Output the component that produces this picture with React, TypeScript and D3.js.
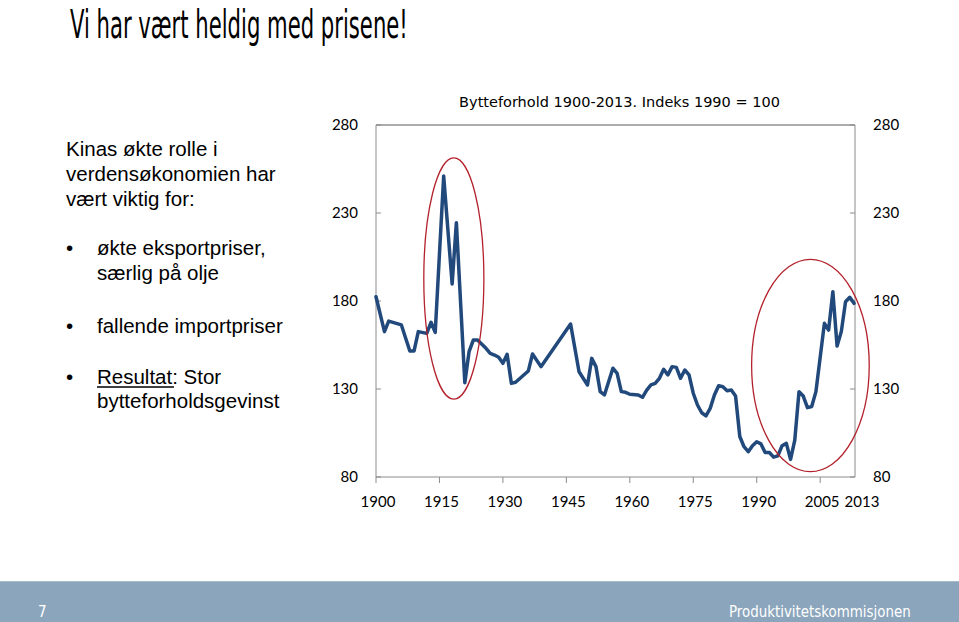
import React, { useLayoutEffect, useRef, useState } from "react";
import * as d3 from "d3";

const years = [1900,1902,1903,1906,1908,1909,1910,1912,1913,1914,1916,1918,1919,1921,1922,1923,1924,1926,1927,1928,1929,1930,1931,1932,1933,1936,1937,1939,1946,1948,1950,1951,1952,1953,1954,1956,1957,1958,1959,1960,1962,1963,1964,1965,1966,1967,1968,1969,1970,1971,1972,1973,1974,1975,1976,1977,1978,1979,1980,1981,1982,1983,1984,1985,1986,1987,1988,1989,1990,1991,1992,1993,1994,1995,1996,1997,1998,1999,2000,2001,2002,2003,2004,2006,2007,2008,2009,2010,2011,2012,2013];
const values = [182.4,162.6,168.6,166.4,151.6,151.6,162.6,161.6,167.9,162.2,251,189.7,224.5,133.6,151.2,157.8,157.8,153.1,150.2,149.3,148,144.6,149.7,133.2,133.8,140.2,149.9,142.7,166.9,139.8,132.3,147.4,142.7,128.5,126.6,141.8,138.9,128.5,128.1,127,126.6,125.3,129.4,132.3,133.2,136.1,141.2,138,142.7,142.3,136.1,140.8,138,127.6,120.9,116.5,114.7,119,126.6,131.9,131.3,129,129.4,126,103,97.2,94.4,97.8,100,98.8,93.9,93.9,91.3,92,97.8,99.1,90,101,128.5,126,119.4,120,128.5,167.3,163.5,185.3,154.4,162.6,179.6,182.1,178.7];

const yTicks = [80, 130, 180, 230, 280];
const xTicks = [1900, 1915, 1930, 1945, 1960, 1975, 1990, 2005];
const lastYearLabel = "2013";

// highlight ellipses: [yearFrom, yearTo], [valueFrom, valueTo]
const highlightYears = [[1911.3, 1925.5], [1988.8, 2016.6]];
const highlightValues = [[124.3, 261.3], [83.0, 203.7]];

const chartTitle = "Bytteforhold 1900-2013. Indeks 1990 = 100";
const slideTitle = "Vi har vært heldig med prisene!";
const introLines = ["Kinas økte rolle i", "verdensøkonomien har", "vært viktig for:"];
const bullet1 = ["økte eksportpriser,", "særlig på olje"];
const bullet2 = ["fallende importpriser"];
const footerLeft = "7";
const footerRight = "Produktivitetskommisjonen";

function FitText({ x, y, width, anchor, children, ...rest }: any) {
  const ref = useRef<SVGTextElement>(null);
  const [sx, setSx] = useState(1);
  useLayoutEffect(() => {
    if (ref.current) {
      const w = ref.current.getComputedTextLength();
      if (w > 0) setSx(width / w);
    }
  }, [width]);
  const tx = anchor === "end" ? x - width : x;
  return (
    <g transform={`translate(${tx},${y}) scale(${sx},1)`}>
      <text ref={ref} x={0} y={0} {...rest}>{children}</text>
    </g>
  );
}

export default function App() {
  const W = 959, H = 622;
  const x = d3.scaleLinear().domain([1900, 2013]).range([376, 854]);
  const y = d3.scaleLinear().domain([80, 280]).range([477, 125]);
  const xLeft = 376, xRight = 855;
  const pts = years.map((yr, i) => [yr, values[i]] as [number, number]);
  const line = d3.line<[number, number]>().x(d => x(d[0])).y(d => y(d[1]));
  const axisFont = "Lato, 'Open Sans', sans-serif";
  const textFont = "'Liberation Sans', Arial, sans-serif";
  const condFont = "'DejaVu Sans Condensed', 'DejaVu Sans', sans-serif";

  return (
    <svg width={W} height={H} style={{ position: "absolute", left: 0, top: 0, background: "#fff" }}>
      <FitText x={70} y={38} width={338} fontFamily={condFont} fontSize={39} fill="#000">{slideTitle}</FitText>

      <g fontFamily={textFont} fontSize={20.5} fill="#000">
        {introLines.map((t, i) => (
          <text key={t} x={66} y={156 + i * 25}>{t}</text>
        ))}
        <text x={66} y={255}>•</text>
        {bullet1.map((t, i) => (
          <text key={t} x={97} y={255 + i * 24.5}>{t}</text>
        ))}
        <text x={66} y={333}>•</text>
        {bullet2.map((t) => (
          <text key={t} x={97} y={333}>{t}</text>
        ))}
        <text x={66} y={384}>•</text>
        <text x={97} y={384}>Resultat: Stor</text>
        <line x1={97} x2={174} y1={387} y2={387} stroke="#000" strokeWidth={1.3} />
        <text x={97} y={408}>bytteforholdsgevinst</text>
      </g>

      <text x={(xLeft + xRight) / 2 + 4} y={107} textAnchor="middle"
        fontFamily="'DejaVu Sans', Verdana, sans-serif" fontSize={14.5} fill="#000">{chartTitle}</text>

      {/* plot frame */}
      <line x1={xLeft} x2={xRight} y1={y(280)} y2={y(280)} stroke="#595959" strokeWidth={1} />
      <line x1={xLeft} x2={xLeft} y1={y(280)} y2={y(80)} stroke="#8c8c8c" strokeWidth={1} />
      <line x1={xRight} x2={xRight} y1={y(280)} y2={y(80)} stroke="#8c8c8c" strokeWidth={1} />
      <line x1={xLeft} x2={xRight} y1={y(80)} y2={y(80)} stroke="#8c8c8c" strokeWidth={1} />

      {yTicks.map(v => (
        <g key={v}>
          <line x1={xLeft} x2={xLeft + 5} y1={y(v)} y2={y(v)} stroke="#8c8c8c" />
          <line x1={xRight - 5} x2={xRight} y1={y(v)} y2={y(v)} stroke="#8c8c8c" />
          <text x={358} y={y(v) + 5} textAnchor="end" fontFamily={axisFont} fontSize={15} fill="#000">{v}</text>
          <text x={873} y={y(v) + 5} textAnchor="start" fontFamily={axisFont} fontSize={15} fill="#000">{v}</text>
        </g>
      ))}

      {xTicks.map(t => (
        <g key={t}>
          <line x1={x(t)} x2={x(t)} y1={y(80)} y2={y(80) + 6} stroke="#8c8c8c" />
          <text x={x(t) + 2} y={507} textAnchor="middle" fontFamily={axisFont} fontSize={15} fill="#000">{t}</text>
        </g>
      ))}
      <text x={x(2013) + 8} y={507} textAnchor="middle" fontFamily={axisFont} fontSize={15} fill="#000">{lastYearLabel}</text>

      <path d={line(pts) || ""} fill="none" stroke="#22497b" strokeWidth={3.5} strokeLinejoin="round" strokeLinecap="round" />

      {highlightYears.map((yr, i) => {
        const x0 = x(yr[0]), x1 = x(yr[1]);
        const y0 = y(highlightValues[i][1]), y1 = y(highlightValues[i][0]);
        return (
          <ellipse key={i} cx={(x0 + x1) / 2} cy={(y0 + y1) / 2} rx={(x1 - x0) / 2} ry={(y1 - y0) / 2}
            fill="none" stroke="#b3222c" strokeWidth={1.3} />
        );
      })}

      <rect x={0} y={581} width={W} height={H - 581} fill="#8ba5bc" />
      <line x1={0} x2={W} y1={581.5} y2={581.5} stroke="#a7bacb" />
      <text x={38} y={617} fontFamily={condFont} fontSize={15} fill="#fff">{footerLeft}</text>
      <FitText x={911} y={617} width={182} anchor="end" fontFamily={condFont} fontSize={15} fill="#fff">{footerRight}</FitText>
    </svg>
  );
}
